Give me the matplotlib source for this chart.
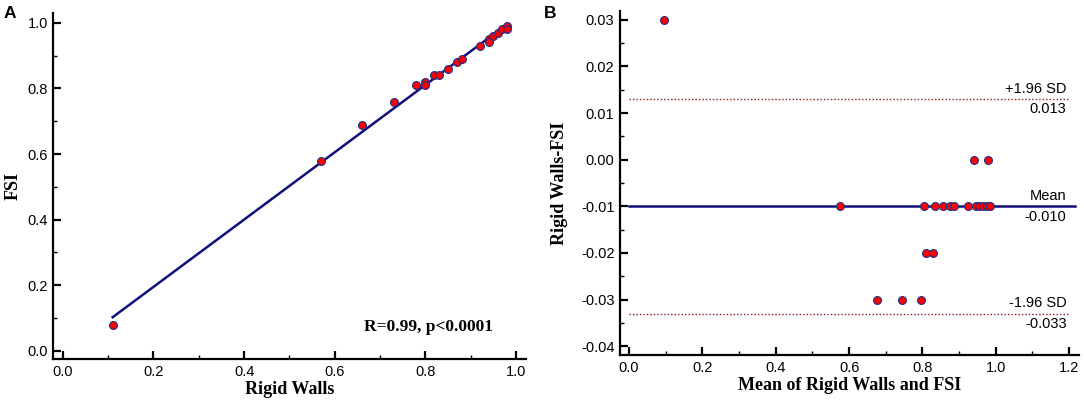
import numpy as np
import matplotlib
matplotlib.use('Agg')
from matplotlib import pyplot as plt
from matplotlib.ticker import MultipleLocator, FormatStrFormatter

rigid_walls = [0.11, 0.57, 0.66, 0.73, 0.78, 0.80, 0.82, 0.80, 0.83, 0.85,
               0.87, 0.88, 0.92, 0.94, 0.95, 0.96, 0.97, 0.98, 0.94, 0.98]
fsi = [0.08, 0.58, 0.69, 0.76, 0.81, 0.82, 0.84, 0.81, 0.84, 0.86,
       0.88, 0.89, 0.93, 0.95, 0.96, 0.97, 0.98, 0.99, 0.94, 0.98]

# Bland-Altman summary values as printed on panel B
mean_diff = -0.010
upper_loa = 0.013
lower_loa = -0.033
stats_text = 'R=0.99, p<0.0001'

rw = np.array(rigid_walls)
fs = np.array(fsi)
means = (rw + fs) / 2
diffs = rw - fs

navy = '#10107a'
marker_kw = dict(s=32, c='#ff0000', edgecolors='#1c2f8a', linewidths=0.8, zorder=3)
sans = ['Liberation Sans', 'DejaVu Sans']
serif = ['Liberation Serif', 'DejaVu Serif']

fig = plt.figure(figsize=(10.84, 4.03), dpi=100)
ax1 = fig.add_axes([0.0492, 0.109, 0.436, 0.858])
ax2 = fig.add_axes([0.572, 0.119, 0.4234, 0.854])


def style(ax):
    for side in ['top', 'right']:
        ax.spines[side].set_visible(False)
    for side in ['left', 'bottom']:
        ax.spines[side].set_linewidth(1.6)
    ax.tick_params(which='major', direction='in', length=6, width=1.6,
                   labelsize=10.5, pad=4)
    ax.tick_params(which='minor', direction='in', length=3, width=1.0)
    for lab in ax.get_xticklabels() + ax.get_yticklabels():
        lab.set_family(sans)


# panel A: scatter with regression line
slope, intercept = np.polyfit(rw, fs, 1)
line_x = np.array([rw.min(), rw.max()])
ax1.plot(line_x, slope * line_x + intercept, color=navy, lw=1.8, zorder=2)
ax1.scatter(rw, fs, **marker_kw)
ax1.set_xlim(-0.021, 1.022)
ax1.set_ylim(-0.025, 1.029)
ax1.xaxis.set_major_locator(MultipleLocator(0.2))
ax1.xaxis.set_minor_locator(MultipleLocator(0.1))
ax1.yaxis.set_major_locator(MultipleLocator(0.2))
ax1.yaxis.set_minor_locator(MultipleLocator(0.1))
ax1.xaxis.set_major_formatter(FormatStrFormatter('%.1f'))
ax1.yaxis.set_major_formatter(FormatStrFormatter('%.1f'))
style(ax1)
ax1.set_xlabel('Rigid Walls', family=serif, fontweight='bold', fontsize=13, labelpad=2)
ax1.set_ylabel('FSI', family=serif, fontweight='bold', fontsize=13, labelpad=4)
ax1.text(0.949, 0.072, stats_text, family=serif, fontweight='bold', fontsize=12.5,
         ha='right', va='center')

# panel B: Bland-Altman plot
ax2.axhline(mean_diff, xmin=0.0197, xmax=0.9921, color=navy, lw=1.8, zorder=2)
for val in [upper_loa, lower_loa]:
    ax2.plot([0, 1.2], [val, val], color='#8b1a1a', lw=1.0,
             linestyle=(0, (1, 1.5)), zorder=1)
ax2.scatter(means, diffs, **marker_kw)
ax2.set_xlim(-0.0245, 1.227)
ax2.set_ylim(-0.0419, 0.0319)
ax2.xaxis.set_major_locator(MultipleLocator(0.2))
ax2.xaxis.set_minor_locator(MultipleLocator(0.1))
ax2.yaxis.set_major_locator(MultipleLocator(0.01))
ax2.yaxis.set_minor_locator(MultipleLocator(0.005))
ax2.xaxis.set_major_formatter(FormatStrFormatter('%.1f'))
ax2.yaxis.set_major_formatter(FormatStrFormatter('%.2f'))
style(ax2)
ax2.set_xlabel('Mean of Rigid Walls and FSI', family=serif, fontweight='bold',
               fontsize=13, labelpad=2)
ax2.set_ylabel('Rigid Walls-FSI', family=serif, fontweight='bold', fontsize=13,
               labelpad=9)

labels = [(upper_loa, '+1.96 SD', f'{upper_loa:.3f}'),
          (mean_diff, 'Mean', f'{mean_diff:.3f}'),
          (lower_loa, '-1.96 SD', f'{lower_loa:.3f}')]
for val, above, below in labels:
    ax2.annotate(above, xy=(1.193, val), xytext=(0, 2.5), textcoords='offset points',
                 ha='right', va='bottom', fontsize=10.5, family=sans)
    ax2.annotate(below, xy=(1.193, val), xytext=(0, -2.5), textcoords='offset points',
                 ha='right', va='top', fontsize=10.5, family=sans)

fig.text(10 / 1084, 1 - 13 / 403, 'A', family=sans, fontweight='bold', fontsize=12.5,
         ha='center', va='center')
fig.text(550 / 1084, 1 - 13 / 403, 'B', family=sans, fontweight='bold', fontsize=12.5,
         ha='center', va='center')

fig.savefig('out.png', dpi=100)
